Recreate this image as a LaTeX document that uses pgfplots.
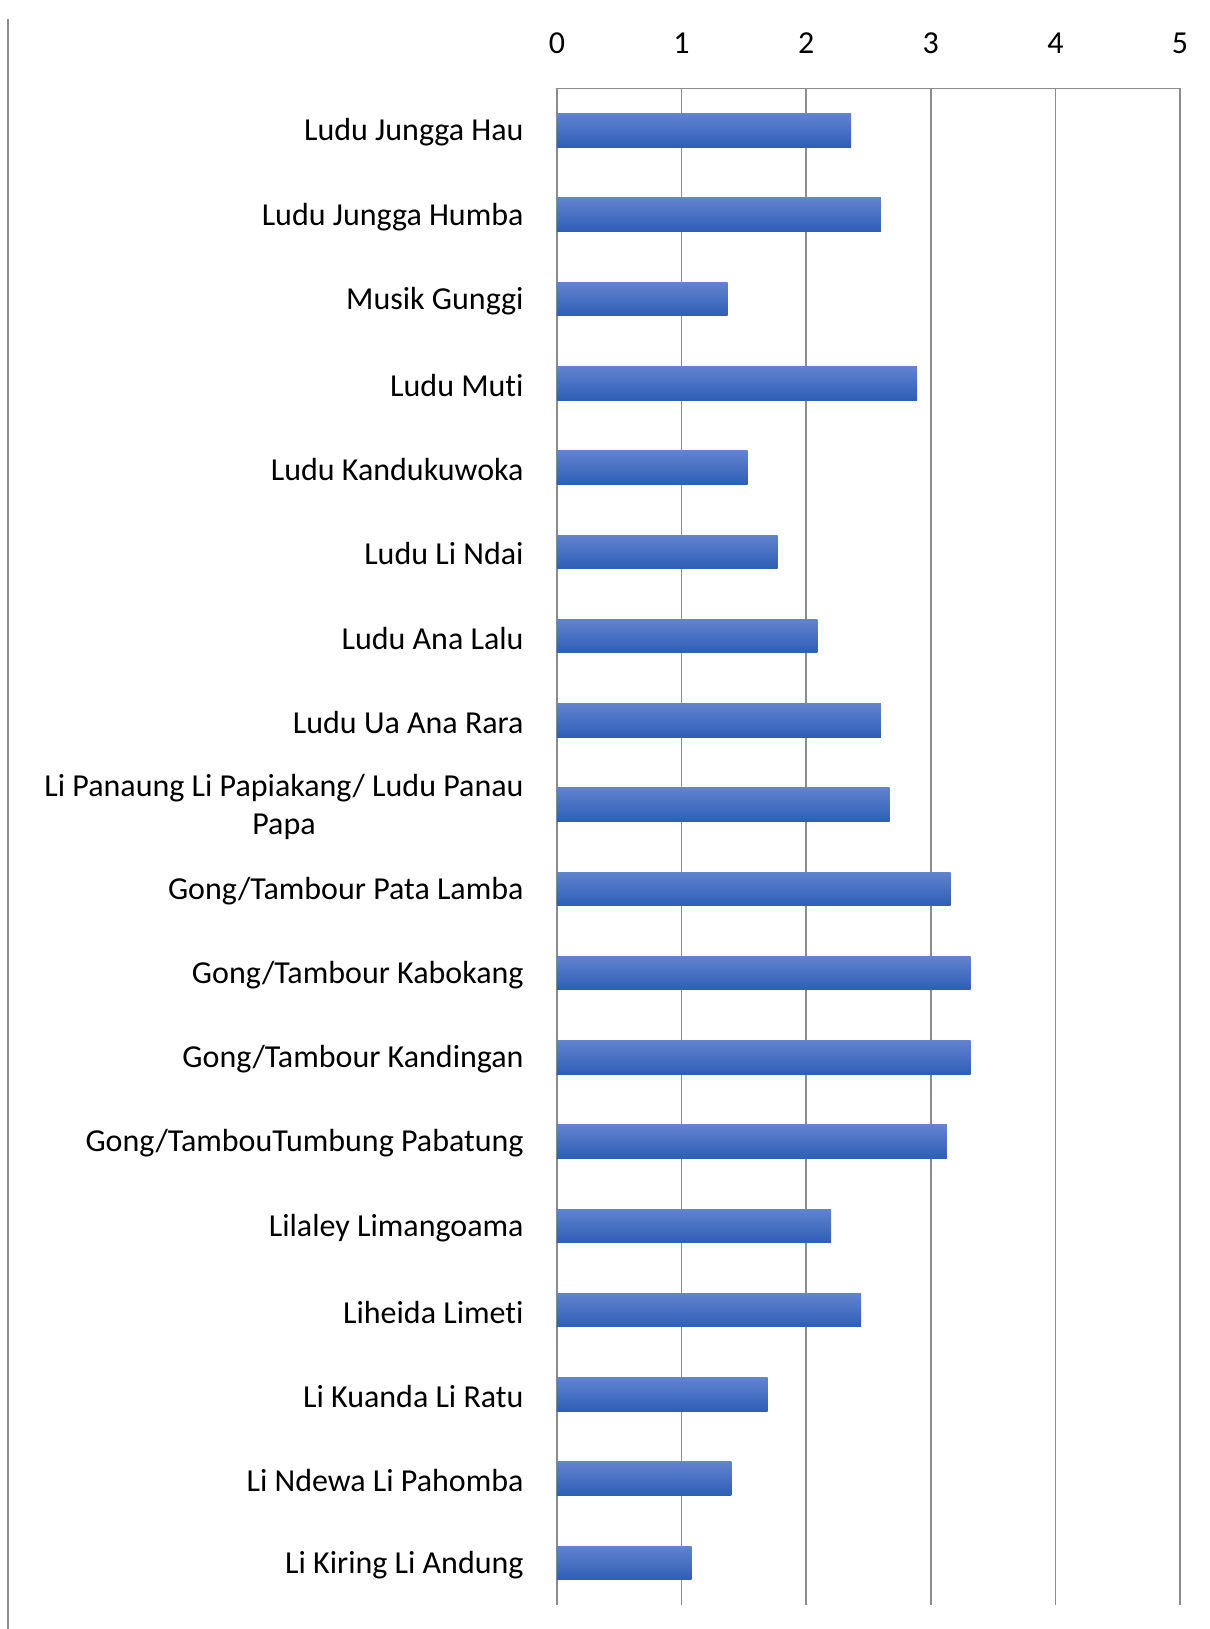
\documentclass[border=0pt]{standalone}
\usepackage{fontspec}
\setmainfont{Carlito}[Ligatures={NoCommon,NoRequired,NoContextual}]
\usepackage{pgfplots}
\pgfplotsset{compat=1.18}
\definecolor{gridgray}{RGB}{140,140,140}
\definecolor{bartop}{RGB}{98,131,207}
\definecolor{barmid}{RGB}{62,112,204}
\definecolor{barbot}{RGB}{46,94,183}
\begin{document}
\begin{tikzpicture}
\path[use as bounding box] (-278.5pt,-12pt) rectangle (326.5pt,802.5pt);
\draw[gridgray, line width=0.8pt] (-274.5pt,-12pt) -- (-274.5pt,793pt);
\begin{axis}[
  at={(0,0)}, anchor=south west,
  scale only axis,
  width=311.5pt, height=758.3pt,
  xmin=0, xmax=5,
  ymin=-0.5, ymax=17.5,
  y dir=reverse,
  axis x line*=top,
  axis y line*=left,
  axis line style={draw=gridgray, line width=0.8pt},
  xtick={0,1,2,3,4,5},
  ytick={0,...,17},
  xmajorgrids,
  major grid style={draw=gridgray, line width=0.8pt},
  major tick length=0pt,
  tick style={draw=none},
  /pgf/number format/assume math mode=true,
  tick label style={font=\fontsize{16}{19}\selectfont, text=black},
  xticklabel style={anchor=center, inner sep=0pt, yshift=22.6pt},
  yticklabel style={anchor=east, align=center, inner sep=0pt, xshift=-16.5pt, yshift=-1pt},
  yticklabels={
    {Ludu Jungga Hau},
    {Ludu Jungga Humba},
    {Musik Gunggi},
    {Ludu Mut\kern0pt i},
    {Ludu Kandukuwoka},
    {Ludu Li Ndai},
    {Ludu Ana Lalu},
    {Ludu Ua Ana Rara},
    {Li Panaung Li Papiakang/ Ludu Panau\\Papa},
    {Gong/Tambour Pata Lamba},
    {Gong/Tambour Kabokang},
    {Gong/Tambour Kandingan},
    {Gong/TambouTumbung Pabatung},
    {Lilaley Limangoama},
    {Liheida Limet\kern0pt i},
    {Li Kuanda Li Ratu},
    {Li Ndewa Li Pahomba},
    {Li Kiring Li Andung}},
  clip=false,
  onebar/.style={xbar, bar width=16.8pt, bar shift=0pt, draw=none,
    top color=bartop, middle color=barmid, bottom color=barbot},
]
\addplot[onebar] coordinates {(2.36,0)};
\addplot[onebar] coordinates {(2.60,1)};
\addplot[onebar] coordinates {(1.37,2)};
\addplot[onebar] coordinates {(2.89,3)};
\addplot[onebar] coordinates {(1.53,4)};
\addplot[onebar] coordinates {(1.77,5)};
\addplot[onebar] coordinates {(2.09,6)};
\addplot[onebar] coordinates {(2.60,7)};
\addplot[onebar] coordinates {(2.67,8)};
\addplot[onebar] coordinates {(3.16,9)};
\addplot[onebar] coordinates {(3.32,10)};
\addplot[onebar] coordinates {(3.32,11)};
\addplot[onebar] coordinates {(3.13,12)};
\addplot[onebar] coordinates {(2.20,13)};
\addplot[onebar] coordinates {(2.44,14)};
\addplot[onebar] coordinates {(1.69,15)};
\addplot[onebar] coordinates {(1.40,16)};
\addplot[onebar] coordinates {(1.08,17)};
\end{axis}
\end{tikzpicture}
\end{document}
